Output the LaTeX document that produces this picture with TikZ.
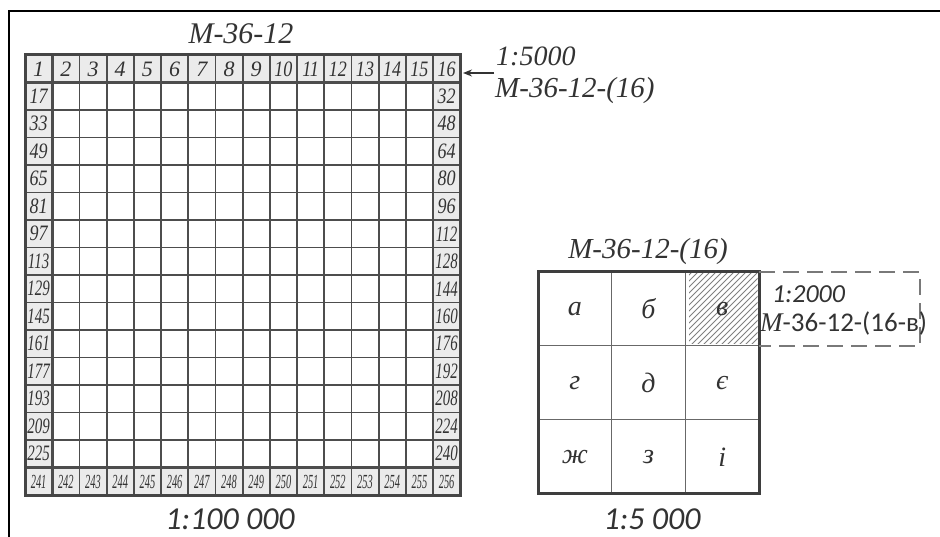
\documentclass[tikz,border=0pt]{standalone}
\usepackage{fontspec}
\setmainfont{Liberation Serif}
\newfontfamily\carl{Carlito}
\usepackage{graphicx}
\usetikzlibrary{arrows.meta}
\definecolor{ink}{HTML}{333333}
\definecolor{gridc}{HTML}{4D4D4D}
\definecolor{cellg}{HTML}{EBEBEB}
\definecolor{hatchc}{HTML}{808080}
\newcommand{\cellnum}[1]{\ifnum#1<10 #1\else\ifnum#1<100 \scalebox{0.82}[1]{#1}\else\scalebox{0.68}[1]{#1}\fi\fi}
\tikzset{
  num/.style={font=\fontsize{22}{22}\selectfont\itshape, text=ink, inner sep=0pt},
  numsmall/.style={font=\fontsize{20}{20}\selectfont\itshape, text=ink, inner sep=0pt},
  gline/.style={draw=gridc, line width=1.8pt},
  gthick/.style={draw=gridc, line width=2.7pt},
  serlab/.style={font=\fontsize{29}{29}\selectfont\itshape, text=ink, inner sep=0pt},
  sanslab/.style={font=\fontsize{32}{32}\selectfont\carl\itshape, text=ink, inner sep=0pt},
  letter/.style={font=\fontsize{28}{28}\selectfont\itshape, text=ink, inner sep=0pt},
  sgline/.style={draw=gridc!85, line width=1.5pt},
}
\begin{document}
\begin{tikzpicture}[x=1pt,y=-1pt]
\useasboundingbox (0,0) rectangle (940,537);
\fill[white] (0,0) rectangle (940,537);
% frame
\draw[black, line width=2.5pt] (940,11) -- (9,11) -- (9,537);
% big grid: shaded border cells
\fill[cellg] (25,55) rectangle (460.2,82.5);
\fill[cellg] (25,467.5) rectangle (460.2,495);
\fill[cellg] (25,55) rectangle (52.2,495);
\fill[cellg] (433,55) rectangle (460.2,495);
\foreach \i in {2,...,14}{
  \draw[gline] ({25+\i*27.2},55) -- ({25+\i*27.2},495);
  \draw[gline] (25,{55+\i*27.5}) -- (460.2,{55+\i*27.5});
}
\foreach \i in {1,15}{
  \draw[gthick] ({25+\i*27.2},55) -- ({25+\i*27.2},495);
  \draw[gthick] (25,{55+\i*27.5}) -- (460.2,{55+\i*27.5});
}
\draw[draw=gridc!90!black, line width=3pt] (25,55) rectangle (460.2,495);
% numbers
\foreach \c in {0,...,15}{
  \pgfmathtruncatemacro\n{\c+1}
  \node[num] (n\n) at ({25+(\c+0.5)*27.2},69) {\cellnum{\n}};
  \pgfmathtruncatemacro\m{\c+241}
  \node[numsmall] (n\m) at ({25+(\c+0.5)*27.2},481.5) {\scalebox{0.52}[1]{\m}};
}
\foreach \r in {1,...,14}{
  \pgfmathtruncatemacro\a{16*\r+1}
  \pgfmathtruncatemacro\b{16*(\r+1)}
  \node[num] (n\a) at (38.6,{55+(\r+0.5)*27.5}) {\cellnum{\a}};
  \node[num] (n\b) at (446.6,{55+(\r+0.5)*27.5}) {\cellnum{\b}};
}
% titles of big grid
\node[serlab, font=\fontsize{30}{30}\selectfont\itshape] (t1) at (241,34) {М-36-12};
\node[sanslab] (s100) at (230,519) {1:100 000};
% arrow and labels
\coordinate (arrs) at (494,73);
\coordinate (arrt) at (463,73);
\draw[-{Stealth[length=9pt,width=7pt]}, draw=ink, line width=1.6pt] (arrs) -- (arrt);
\node[serlab, font=\fontsize{28}{28}\selectfont\itshape, anchor=west] (s5000) at (496,56) {1:5000};
\node[serlab, anchor=west] (code16) at (495,91) {М-36-12-(16)};
% small grid
\begin{scope}
  \clip (689,274) rectangle (757.5,344);
  \foreach \k in {0,6,...,150}{
    \draw[hatchc, line width=1pt] ({686+\k-74},346) -- ({686+\k},272);
  }
\end{scope}
\draw[sgline] (611.7,272) -- (611.7,493.1);
\draw[sgline] (685.4,272) -- (685.4,493.1);
\draw[sgline] (538,345.7) -- (759.1,345.7);
\draw[sgline] (538,419.4) -- (759.1,419.4);
\draw[draw=gridc!80!black, line width=3pt] (538,272) rectangle (759.1,493.1);
\draw[draw=gridc!75, line width=2pt, dash pattern=on 16pt off 8pt] (759.1,272) -- (920,272) -- (920,345.7) -- (759.1,345.7);
\node[letter] (la) at (574.8,309) {а};
\node[letter] (lb) at (648.5,309) {б};
\node[letter] (lv) at (722.2,309) {в};
\node[letter] (lg) at (574.8,383) {г};
\node[letter] (ld) at (648.5,383) {д};
\node[letter] (le) at (722.2,383) {є};
\node[letter] (lzh) at (574.8,457) {ж};
\node[letter] (lz) at (648.5,457) {з};
\node[letter] (li) at (722.2,457) {і};
\node[serlab] (st) at (648,252) {М-36-12-(16)};
\node[sanslab] (s5) at (652,519) {1:5 000};
\node[sanslab, font=\fontsize{26}{26}\selectfont\carl\itshape, anchor=west] (s2000) at (772,294) {1:2000};
\node[sanslab, font=\fontsize{27}{27}\selectfont\carl, anchor=west] (c16v) at (760,323) {{\rmfamily\itshape М}-36-12-(16-в)};
\end{tikzpicture}
\end{document}
